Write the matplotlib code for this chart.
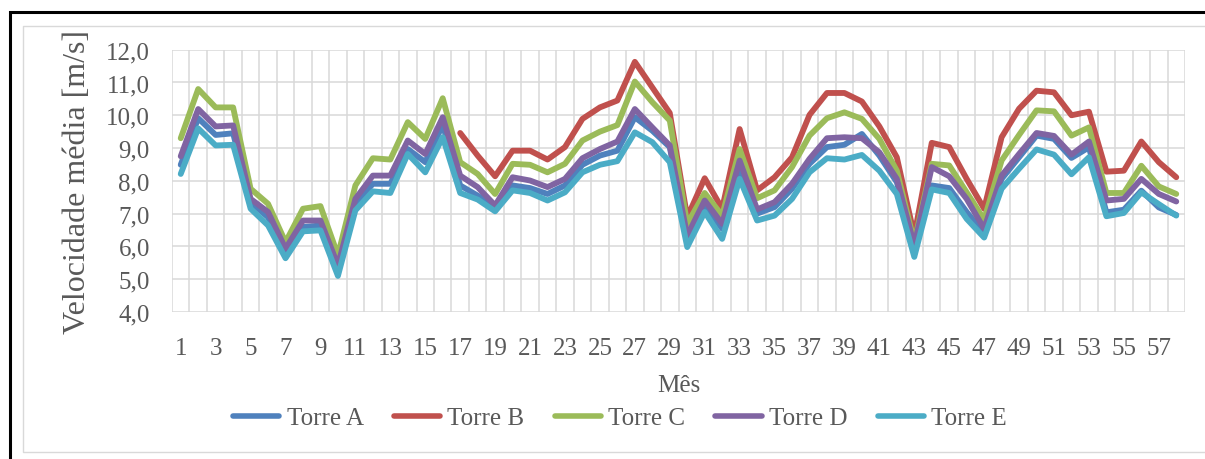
import numpy as np
import matplotlib
matplotlib.use("Agg")
import matplotlib.pyplot as plt
from matplotlib.lines import Line2D

months = list(range(1, 59))
tick_months = list(range(1, 58, 2))

torre_a = [8.49, 9.91, 9.40, 9.45, 7.35, 6.89, 5.83, 6.59, 6.64, 5.32,
           7.30, 7.91, 7.91, 8.97, 8.57, 9.71, 7.86, 7.55, 7.20, 7.86,
           7.78, 7.60, 7.86, 8.49, 8.77, 8.92, 9.94, 9.53, 9.03, 6.23,
           7.25, 6.54, 8.37, 7.00, 7.20, 7.76, 8.52, 9.03, 9.10, 9.43,
           8.77, 7.96, 5.93, 7.86, 7.78, 7.05, 6.39, 8.06, 8.72, 9.38,
           9.28, 8.70, 9.02, 7.04, 7.12, 7.70, 7.19, 6.96]

torre_b = [np.nan] * 16 + [
           9.46, 8.77, 8.14, 8.92, 8.92, 8.65, 9.03, 9.89, 10.24, 10.45,
           11.63, 10.85, 10.07, 6.89, 8.08, 7.15, 9.58, 7.71, 8.11, 8.72,
           10.01, 10.68, 10.68, 10.42, 9.66, 8.72, 6.33, 9.16, 9.03, 8.06,
           7.15, 9.33, 10.20, 10.75, 10.70, 10.00, 10.11, 8.28, 8.31, 9.20,
           8.57, 8.11]

torre_c = [9.30, 10.80, 10.24, 10.24, 7.76, 7.30, 6.13, 7.15, 7.23, 5.73,
           7.86, 8.69, 8.65, 9.79, 9.28, 10.52, 8.57, 8.21, 7.60, 8.52,
           8.49, 8.26, 8.52, 9.23, 9.50, 9.70, 11.03, 10.40, 9.84, 6.69,
           7.63, 6.94, 8.97, 7.47, 7.71, 8.42, 9.38, 9.91, 10.09, 9.89,
           9.28, 8.31, 6.13, 8.52, 8.47, 7.65, 6.82, 8.62, 9.40, 10.15,
           10.12, 9.38, 9.63, 7.63, 7.63, 8.46, 7.83, 7.60]

torre_d = [8.75, 10.19, 9.66, 9.69, 7.45, 7.05, 5.93, 6.79, 6.79, 5.42,
           7.45, 8.16, 8.16, 9.23, 8.82, 9.94, 8.16, 7.81, 7.25, 8.11,
           8.01, 7.81, 8.06, 8.69, 8.97, 9.20, 10.19, 9.63, 9.08, 6.33,
           7.40, 6.69, 8.62, 7.13, 7.35, 7.91, 8.67, 9.30, 9.33, 9.30,
           8.87, 8.06, 6.03, 8.42, 8.14, 7.45, 6.54, 8.16, 8.82, 9.46,
           9.37, 8.80, 9.20, 7.40, 7.45, 8.06, 7.60, 7.37]

torre_e = [8.21, 9.60, 9.08, 9.10, 7.15, 6.64, 5.64, 6.46, 6.49, 5.10,
           7.10, 7.68, 7.63, 8.82, 8.26, 9.33, 7.63, 7.43, 7.07, 7.71,
           7.63, 7.40, 7.65, 8.26, 8.49, 8.60, 9.48, 9.18, 8.57, 5.98,
           7.05, 6.23, 8.06, 6.79, 6.94, 7.45, 8.26, 8.69, 8.65, 8.79,
           8.31, 7.60, 5.68, 7.74, 7.63, 6.84, 6.27, 7.76, 8.37, 8.96,
           8.80, 8.20, 8.72, 6.92, 7.02, 7.65, 7.29, 6.94]

series_names = ["Torre A", "Torre B", "Torre C", "Torre D", "Torre E"]
series_values = [torre_a, torre_b, torre_c, torre_d, torre_e]
series_colors = ["#4F81BD", "#C0504D", "#9BBB59", "#8064A2", "#4BACC6"]

y_ticks = np.arange(4, 12.01, 1.0)

W, H = 1205, 460
plt.rcParams["font.family"] = ["Liberation Serif", "DejaVu Serif"]
text_color = "#595959"
grid_color = "#D9D9D9"

fig = plt.figure(figsize=(W / 100, H / 100), dpi=100)
ax = fig.add_axes([172 / W, 1 - 313 / H, (1185 - 172) / W, (313 - 50.7) / H])

for name, vals, col in zip(series_names, series_values, series_colors):
    ax.plot(months, vals, color=col, lw=4.2, solid_joinstyle="round",
            solid_capstyle="round", label=name, zorder=3)

ax.set_xlim(0.5, 58.5)
ax.set_ylim(4, 12)
ax.set_yticks(y_ticks)
ax.set_yticklabels([f"{v:.1f}".replace(".", ",") for v in y_ticks])
ax.set_xticks(tick_months)
ax.set_xticklabels([str(m) for m in tick_months])

ax.grid(False)
for xb in np.arange(0.5, 58.6, 1.0):
    ax.axvline(xb, color=grid_color, lw=1.1, zorder=1)
for yv in y_ticks:
    ax.axhline(yv, color=grid_color, lw=1.1, zorder=1)
for s in ax.spines.values():
    s.set_visible(False)

ax.tick_params(axis="both", which="both", length=0, labelsize=18,
               colors=text_color)
ax.tick_params(axis="y", pad=16)
ax.tick_params(axis="x", pad=18)

ax.set_ylabel("Velocidade média [m/s]", fontsize=23, color=text_color,
              labelpad=10)
ax.set_xlabel("Mês", fontsize=18, color=text_color, labelpad=11)

leg = fig.legend(loc="center", bbox_to_anchor=(620 / W, 1 - 419 / H),
                 ncol=5, frameon=False, fontsize=18, handlelength=1.85,
                 handletextpad=0.3, columnspacing=1.2, labelcolor=text_color)
for h in leg.get_lines():
    h.set_linewidth(4.0)

# chart area border
def fig_line(xs, ys, **kw):
    fig.add_artist(Line2D([x / W for x in xs], [1 - y / H for y in ys],
                          transform=fig.transFigure, **kw))

fig_line([W, 23.3, 23.3, W], [26.7, 26.7, 453.3, 453.3], color=grid_color, lw=1.0)
# outer frame
fig_line([9.5, 9.5, W], [H, 13.0, 13.0], color="black", lw=2.2,
         solid_capstyle="butt", solid_joinstyle="miter")

fig.savefig("out.png", dpi=100)
